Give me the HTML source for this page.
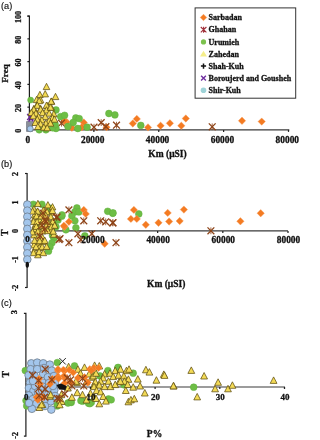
<!DOCTYPE html>
<html><head><meta charset="utf-8"><style>
html,body{margin:0;padding:0;background:#fff;}
body{width:302px;height:440px;overflow:hidden;}
svg{display:block;filter:blur(0.3px);}
</style></head><body>
<svg width="302" height="440" viewBox="0 0 302 440">
<rect width="302" height="440" fill="#fff"/>
<text x="1" y="8.6" font-family="Liberation Sans" font-size="9.2" text-anchor="start" fill="#111" stroke="#111" stroke-width="0.15">(a)</text>
<path d="M27.4 16.1H29.4V129.9H27.4" stroke="#1e1e1e" stroke-width="1.2" fill="none"/>
<path d="M27.4 16.1H29.4" stroke="#1e1e1e" stroke-width="1.2"/>
<path d="M27.4 38.86H29.4" stroke="#1e1e1e" stroke-width="1.2"/>
<path d="M27.4 61.620000000000005H29.4" stroke="#1e1e1e" stroke-width="1.2"/>
<path d="M27.4 84.38H29.4" stroke="#1e1e1e" stroke-width="1.2"/>
<path d="M27.4 107.14000000000001H29.4" stroke="#1e1e1e" stroke-width="1.2"/>
<path d="M27.4 129.9H29.4" stroke="#1e1e1e" stroke-width="1.2"/>
<path d="M29.4 129.9H289.3" stroke="#3a3a3a" stroke-width="1.1" fill="none"/>
<path d="M29.0 129.9V131.9" stroke="#1e1e1e" stroke-width="1.2"/>
<path d="M93.875 129.9V131.9" stroke="#1e1e1e" stroke-width="1.2"/>
<path d="M158.75 129.9V131.9" stroke="#1e1e1e" stroke-width="1.2"/>
<path d="M223.625 129.9V131.9" stroke="#1e1e1e" stroke-width="1.2"/>
<path d="M288.5 129.9V131.9" stroke="#1e1e1e" stroke-width="1.2"/>
<text x="21.3" y="16.900000000000002" font-family="Liberation Serif" font-weight="bold" font-size="8" text-anchor="middle" transform="rotate(-90 21.3 16.900000000000002)" fill="#111" stroke="#111" stroke-width="0.3">100</text>
<text x="21.3" y="39.66" font-family="Liberation Serif" font-weight="bold" font-size="8" text-anchor="middle" transform="rotate(-90 21.3 39.66)" fill="#111" stroke="#111" stroke-width="0.3">80</text>
<text x="21.3" y="62.42" font-family="Liberation Serif" font-weight="bold" font-size="8" text-anchor="middle" transform="rotate(-90 21.3 62.42)" fill="#111" stroke="#111" stroke-width="0.3">60</text>
<text x="21.3" y="85.17999999999999" font-family="Liberation Serif" font-weight="bold" font-size="8" text-anchor="middle" transform="rotate(-90 21.3 85.17999999999999)" fill="#111" stroke="#111" stroke-width="0.3">40</text>
<text x="21.3" y="107.94000000000001" font-family="Liberation Serif" font-weight="bold" font-size="8" text-anchor="middle" transform="rotate(-90 21.3 107.94000000000001)" fill="#111" stroke="#111" stroke-width="0.3">20</text>
<text x="21.3" y="130.70000000000002" font-family="Liberation Serif" font-weight="bold" font-size="8" text-anchor="middle" transform="rotate(-90 21.3 130.70000000000002)" fill="#111" stroke="#111" stroke-width="0.3">0</text>
<text x="27.8" y="142.6" font-family="Liberation Serif" font-weight="bold" font-size="9.4" text-anchor="middle" fill="#111" stroke="#111" stroke-width="0.3">0</text>
<text x="92.675" y="142.6" font-family="Liberation Serif" font-weight="bold" font-size="9.4" text-anchor="middle" fill="#111" stroke="#111" stroke-width="0.3">20000</text>
<text x="157.55" y="142.6" font-family="Liberation Serif" font-weight="bold" font-size="9.4" text-anchor="middle" fill="#111" stroke="#111" stroke-width="0.3">40000</text>
<text x="222.425" y="142.6" font-family="Liberation Serif" font-weight="bold" font-size="9.4" text-anchor="middle" fill="#111" stroke="#111" stroke-width="0.3">60000</text>
<text x="287.3" y="142.6" font-family="Liberation Serif" font-weight="bold" font-size="9.4" text-anchor="middle" fill="#111" stroke="#111" stroke-width="0.3">80000</text>
<text x="8.3" y="73.4" font-family="Liberation Serif" font-weight="bold" font-size="9.2" text-anchor="middle" transform="rotate(-90 8.3 73.4)" fill="#111" stroke="#111" stroke-width="0.3">Freq</text>
<text x="167.5" y="156.8" font-family="Liberation Serif" font-weight="bold" font-size="9.5" text-anchor="middle" fill="#111" stroke="#111" stroke-width="0.3">Km (μSI)</text>
<path d="M106.5 123.5L110.2 127.2L106.5 130.9L102.8 127.2Z" fill="#F47B22" stroke="#F7A060" stroke-width="0.4"/>
<path d="M66.6 118.2L70.3 121.9L66.6 125.6L62.9 121.9Z" fill="#F47B22" stroke="#F7A060" stroke-width="0.4"/>
<path d="M71.9 124.1L75.6 127.8L71.9 131.5L68.2 127.8Z" fill="#F47B22" stroke="#F7A060" stroke-width="0.4"/>
<path d="M83.8 118.8L87.5 122.5L83.8 126.2L80.1 122.5Z" fill="#F47B22" stroke="#F7A060" stroke-width="0.4"/>
<path d="M81.8 123.5L85.5 127.2L81.8 130.9L78.1 127.2Z" fill="#F47B22" stroke="#F7A060" stroke-width="0.4"/>
<path d="M64.4 117.5L68.1 121.2L64.4 124.9L60.7 121.2Z" fill="#F47B22" stroke="#F7A060" stroke-width="0.4"/>
<path d="M136.8 115.2L140.5 118.9L136.8 122.6L133.1 118.9Z" fill="#F47B22" stroke="#F7A060" stroke-width="0.4"/>
<path d="M132.8 119.8L136.5 123.5L132.8 127.2L129.1 123.5Z" fill="#F47B22" stroke="#F7A060" stroke-width="0.4"/>
<path d="M148.0 123.7L151.7 127.4L148.0 131.1L144.3 127.4Z" fill="#F47B22" stroke="#F7A060" stroke-width="0.4"/>
<path d="M160.6 122.0L164.3 125.7L160.6 129.4L156.9 125.7Z" fill="#F47B22" stroke="#F7A060" stroke-width="0.4"/>
<path d="M169.9 119.6L173.6 123.3L169.9 127.0L166.2 123.3Z" fill="#F47B22" stroke="#F7A060" stroke-width="0.4"/>
<path d="M181.3 122.0L185.0 125.7L181.3 129.4L177.6 125.7Z" fill="#F47B22" stroke="#F7A060" stroke-width="0.4"/>
<path d="M185.8 114.8L189.5 118.5L185.8 122.2L182.1 118.5Z" fill="#F47B22" stroke="#F7A060" stroke-width="0.4"/>
<path d="M242.0 117.1L245.7 120.8L242.0 124.5L238.3 120.8Z" fill="#F47B22" stroke="#F7A060" stroke-width="0.4"/>
<path d="M261.7 117.9L265.4 121.6L261.7 125.3L258.0 121.6Z" fill="#F47B22" stroke="#F7A060" stroke-width="0.4"/>
<path d="M58.1 119.8L64.9 126.6M64.9 119.8L58.1 126.6" stroke="#8E4418" stroke-width="1.3" fill="none"/><path d="M61.5 119.8V126.6" stroke="#8E4418" stroke-width="0.8"/>
<path d="M90.6 123.8L97.4 130.6M97.4 123.8L90.6 130.6" stroke="#8E4418" stroke-width="1.3" fill="none"/><path d="M94.0 123.8V130.6" stroke="#8E4418" stroke-width="0.8"/>
<path d="M97.8 119.2L104.6 126.0M104.6 119.2L97.8 126.0" stroke="#8E4418" stroke-width="1.3" fill="none"/><path d="M101.2 119.2V126.0" stroke="#8E4418" stroke-width="0.8"/>
<path d="M102.5 123.2L109.3 130.0M109.3 123.2L102.5 130.0" stroke="#8E4418" stroke-width="1.3" fill="none"/><path d="M105.9 123.2V130.0" stroke="#8E4418" stroke-width="0.8"/>
<path d="M113.1 121.8L119.9 128.6M119.9 121.8L113.1 128.6" stroke="#8E4418" stroke-width="1.3" fill="none"/><path d="M116.5 121.8V128.6" stroke="#8E4418" stroke-width="0.8"/>
<path d="M208.8 123.4L215.6 130.2M215.6 123.4L208.8 130.2" stroke="#8E4418" stroke-width="1.3" fill="none"/><path d="M212.2 123.4V130.2" stroke="#8E4418" stroke-width="0.8"/>
<circle cx="56.0" cy="110.0" r="3.4" fill="#6DBE45" stroke="#62AE3E" stroke-width="0.5"/>
<circle cx="60.6" cy="116.6" r="3.4" fill="#6DBE45" stroke="#62AE3E" stroke-width="0.5"/>
<circle cx="64.6" cy="115.3" r="3.4" fill="#6DBE45" stroke="#62AE3E" stroke-width="0.5"/>
<circle cx="75.8" cy="117.9" r="3.4" fill="#6DBE45" stroke="#62AE3E" stroke-width="0.5"/>
<circle cx="79.2" cy="118.6" r="3.4" fill="#6DBE45" stroke="#62AE3E" stroke-width="0.5"/>
<circle cx="73.2" cy="122.5" r="3.4" fill="#6DBE45" stroke="#62AE3E" stroke-width="0.5"/>
<circle cx="67.9" cy="126.5" r="3.4" fill="#6DBE45" stroke="#62AE3E" stroke-width="0.5"/>
<circle cx="77.8" cy="128.5" r="3.4" fill="#6DBE45" stroke="#62AE3E" stroke-width="0.5"/>
<circle cx="87.1" cy="127.2" r="3.4" fill="#6DBE45" stroke="#62AE3E" stroke-width="0.5"/>
<circle cx="56.0" cy="128.5" r="3.4" fill="#6DBE45" stroke="#62AE3E" stroke-width="0.5"/>
<circle cx="30.6" cy="100.1" r="3.0" fill="#6DBE45" stroke="#62AE3E" stroke-width="0.5"/>
<circle cx="39.2" cy="129.8" r="3.4" fill="#6DBE45" stroke="#62AE3E" stroke-width="0.5"/>
<circle cx="45.9" cy="129.8" r="3.4" fill="#6DBE45" stroke="#62AE3E" stroke-width="0.5"/>
<circle cx="52.5" cy="127.8" r="3.4" fill="#6DBE45" stroke="#62AE3E" stroke-width="0.5"/>
<circle cx="55.1" cy="124.5" r="3.4" fill="#6DBE45" stroke="#62AE3E" stroke-width="0.5"/>
<circle cx="108.9" cy="113.5" r="3.4" fill="#6DBE45" stroke="#62AE3E" stroke-width="0.5"/>
<circle cx="114.9" cy="114.9" r="3.4" fill="#6DBE45" stroke="#62AE3E" stroke-width="0.5"/>
<circle cx="140.8" cy="125.4" r="3.4" fill="#6DBE45" stroke="#62AE3E" stroke-width="0.5"/>
<rect x="26" y="121" width="7" height="11" rx="1" fill="#8a8f99"/>
<path d="M27.2 114.0L33.2 120.0M33.2 114.0L27.2 120.0" stroke="#6A2A9A" stroke-width="1.6"/>
<path d="M28.5 116.5L33.5 121.5M33.5 116.5L28.5 121.5" stroke="#6A2A9A" stroke-width="1.6"/>
<path d="M46.5 83.3L49.8 89.6L43.2 89.6Z" fill="#F3DA55" stroke="#5E4E10" stroke-width="0.75"/>
<path d="M39.9 91.3L43.2 97.6L36.6 97.6Z" fill="#F3DA55" stroke="#5E4E10" stroke-width="0.75"/>
<path d="M45.2 90.6L48.5 96.9L41.9 96.9Z" fill="#F3DA55" stroke="#5E4E10" stroke-width="0.75"/>
<path d="M55.5 93.3L58.8 99.6L52.2 99.6Z" fill="#F3DA55" stroke="#5E4E10" stroke-width="0.75"/>
<path d="M36.6 96.3L39.9 102.6L33.3 102.6Z" fill="#F3DA55" stroke="#5E4E10" stroke-width="0.75"/>
<path d="M40.6 96.6L43.9 102.9L37.3 102.9Z" fill="#F3DA55" stroke="#5E4E10" stroke-width="0.75"/>
<path d="M51.5 97.9L54.8 104.2L48.2 104.2Z" fill="#F3DA55" stroke="#5E4E10" stroke-width="0.75"/>
<path d="M37.2 101.6L40.5 107.9L33.9 107.9Z" fill="#F3DA55" stroke="#5E4E10" stroke-width="0.75"/>
<path d="M47.2 102.5L50.5 108.8L43.9 108.8Z" fill="#F3DA55" stroke="#5E4E10" stroke-width="0.75"/>
<path d="M51.2 103.9L54.5 110.2L47.9 110.2Z" fill="#F3DA55" stroke="#5E4E10" stroke-width="0.75"/>
<path d="M33.9 105.2L37.2 111.5L30.6 111.5Z" fill="#F3DA55" stroke="#5E4E10" stroke-width="0.75"/>
<path d="M40.6 105.2L43.9 111.5L37.3 111.5Z" fill="#F3DA55" stroke="#5E4E10" stroke-width="0.75"/>
<path d="M39.2 97.4L42.5 103.7L35.9 103.7Z" fill="#F3DA55" stroke="#5E4E10" stroke-width="0.75"/>
<path d="M51.2 98.0L54.5 104.3L47.9 104.3Z" fill="#F3DA55" stroke="#5E4E10" stroke-width="0.75"/>
<path d="M46.5 102.0L49.8 108.3L43.2 108.3Z" fill="#F3DA55" stroke="#5E4E10" stroke-width="0.75"/>
<path d="M37.3 102.0L40.6 108.3L34.0 108.3Z" fill="#F3DA55" stroke="#5E4E10" stroke-width="0.75"/>
<path d="M33.9 106.0L37.2 112.3L30.6 112.3Z" fill="#F3DA55" stroke="#5E4E10" stroke-width="0.75"/>
<path d="M40.6 106.0L43.9 112.3L37.3 112.3Z" fill="#F3DA55" stroke="#5E4E10" stroke-width="0.75"/>
<path d="M46.5 106.7L49.8 113.0L43.2 113.0Z" fill="#F3DA55" stroke="#5E4E10" stroke-width="0.75"/>
<path d="M50.5 104.0L53.8 110.3L47.2 110.3Z" fill="#F3DA55" stroke="#5E4E10" stroke-width="0.75"/>
<path d="M31.3 109.3L34.6 115.6L28.0 115.6Z" fill="#F3DA55" stroke="#5E4E10" stroke-width="0.75"/>
<path d="M35.9 109.9L39.2 116.2L32.6 116.2Z" fill="#F3DA55" stroke="#5E4E10" stroke-width="0.75"/>
<path d="M42.6 109.3L45.9 115.6L39.3 115.6Z" fill="#F3DA55" stroke="#5E4E10" stroke-width="0.75"/>
<path d="M49.2 109.9L52.5 116.2L45.9 116.2Z" fill="#F3DA55" stroke="#5E4E10" stroke-width="0.75"/>
<path d="M53.8 110.6L57.1 116.9L50.5 116.9Z" fill="#F3DA55" stroke="#5E4E10" stroke-width="0.75"/>
<path d="M33.3 112.6L36.6 118.9L30.0 118.9Z" fill="#F3DA55" stroke="#5E4E10" stroke-width="0.75"/>
<path d="M38.6 113.3L41.9 119.6L35.3 119.6Z" fill="#F3DA55" stroke="#5E4E10" stroke-width="0.75"/>
<path d="M45.2 113.3L48.5 119.6L41.9 119.6Z" fill="#F3DA55" stroke="#5E4E10" stroke-width="0.75"/>
<path d="M52.5 114.6L55.8 120.9L49.2 120.9Z" fill="#F3DA55" stroke="#5E4E10" stroke-width="0.75"/>
<path d="M37.3 115.9L40.6 122.2L34.0 122.2Z" fill="#F3DA55" stroke="#5E4E10" stroke-width="0.75"/>
<path d="M41.9 116.6L45.2 122.9L38.6 122.9Z" fill="#F3DA55" stroke="#5E4E10" stroke-width="0.75"/>
<path d="M49.2 117.2L52.5 123.5L45.9 123.5Z" fill="#F3DA55" stroke="#5E4E10" stroke-width="0.75"/>
<path d="M54.5 115.9L57.8 122.2L51.2 122.2Z" fill="#F3DA55" stroke="#5E4E10" stroke-width="0.75"/>
<path d="M35.3 119.2L38.6 125.5L32.0 125.5Z" fill="#F3DA55" stroke="#5E4E10" stroke-width="0.75"/>
<path d="M40.6 120.5L43.9 126.8L37.3 126.8Z" fill="#F3DA55" stroke="#5E4E10" stroke-width="0.75"/>
<path d="M45.9 119.9L49.2 126.2L42.6 126.2Z" fill="#F3DA55" stroke="#5E4E10" stroke-width="0.75"/>
<path d="M50.5 119.9L53.8 126.2L47.2 126.2Z" fill="#F3DA55" stroke="#5E4E10" stroke-width="0.75"/>
<path d="M37.9 123.2L41.2 129.5L34.6 129.5Z" fill="#F3DA55" stroke="#5E4E10" stroke-width="0.75"/>
<path d="M43.9 123.9L47.2 130.2L40.6 130.2Z" fill="#F3DA55" stroke="#5E4E10" stroke-width="0.75"/>
<path d="M47.2 124.5L50.5 130.8L43.9 130.8Z" fill="#F3DA55" stroke="#5E4E10" stroke-width="0.75"/>
<circle cx="30.2" cy="128.8" r="3.0" fill="#A3C6EC" stroke="#6F7C8C" stroke-width="0.8"/>
<text x="1" y="167.3" font-family="Liberation Sans" font-size="9.2" text-anchor="start" fill="#111" stroke="#111" stroke-width="0.15">(b)</text>
<path d="M25.1 173.5H27.1V287.5H25.1" stroke="#1e1e1e" stroke-width="1.2" fill="none"/>
<path d="M25.1 173.5H27.1" stroke="#1e1e1e" stroke-width="1.2"/>
<path d="M25.1 202.0H27.1" stroke="#1e1e1e" stroke-width="1.2"/>
<path d="M25.1 230.5H27.1" stroke="#1e1e1e" stroke-width="1.2"/>
<path d="M25.1 259.0H27.1" stroke="#1e1e1e" stroke-width="1.2"/>
<path d="M25.1 287.5H27.1" stroke="#1e1e1e" stroke-width="1.2"/>
<path d="M27.1 230.9H288" stroke="#3a3a3a" stroke-width="1.1" fill="none"/>
<path d="M27.3 230.9V232.9" stroke="#1e1e1e" stroke-width="1.2"/>
<path d="M92.475 230.9V232.9" stroke="#1e1e1e" stroke-width="1.2"/>
<path d="M157.65 230.9V232.9" stroke="#1e1e1e" stroke-width="1.2"/>
<path d="M222.825 230.9V232.9" stroke="#1e1e1e" stroke-width="1.2"/>
<path d="M288.0 230.9V232.9" stroke="#1e1e1e" stroke-width="1.2"/>
<text x="18.3" y="174.0" font-family="Liberation Serif" font-weight="bold" font-size="8" text-anchor="middle" transform="rotate(-90 18.3 174.0)" fill="#111" stroke="#111" stroke-width="0.3">2</text>
<text x="18.3" y="202.5" font-family="Liberation Serif" font-weight="bold" font-size="8" text-anchor="middle" transform="rotate(-90 18.3 202.5)" fill="#111" stroke="#111" stroke-width="0.3">1</text>
<text x="18.3" y="231.0" font-family="Liberation Serif" font-weight="bold" font-size="8" text-anchor="middle" transform="rotate(-90 18.3 231.0)" fill="#111" stroke="#111" stroke-width="0.3">0</text>
<text x="18.3" y="259.5" font-family="Liberation Serif" font-weight="bold" font-size="8" text-anchor="middle" transform="rotate(-90 18.3 259.5)" fill="#111" stroke="#111" stroke-width="0.3">-1</text>
<text x="18.3" y="288.0" font-family="Liberation Serif" font-weight="bold" font-size="8" text-anchor="middle" transform="rotate(-90 18.3 288.0)" fill="#111" stroke="#111" stroke-width="0.3">-2</text>
<text x="8.5" y="232.7" font-family="Liberation Serif" font-weight="bold" font-size="9.6" text-anchor="middle" transform="rotate(-90 8.5 232.7)" fill="#111" stroke="#111" stroke-width="0.3">T</text>
<text x="166.2" y="287.2" font-family="Liberation Serif" font-weight="bold" font-size="9.5" text-anchor="middle" fill="#111" stroke="#111" stroke-width="0.3">Km (μSI)</text>
<circle cx="41.9" cy="204.3" r="3.4" fill="#6DBE45" stroke="#62AE3E" stroke-width="0.5"/>
<circle cx="33.3" cy="204.3" r="3.4" fill="#6DBE45" stroke="#62AE3E" stroke-width="0.5"/>
<circle cx="61.8" cy="216.2" r="3.4" fill="#6DBE45" stroke="#62AE3E" stroke-width="0.5"/>
<circle cx="54.5" cy="226.8" r="3.4" fill="#6DBE45" stroke="#62AE3E" stroke-width="0.5"/>
<circle cx="49.8" cy="208.2" r="3.4" fill="#6DBE45" stroke="#62AE3E" stroke-width="0.5"/>
<circle cx="54.0" cy="238.2" r="3.4" fill="#6DBE45" stroke="#62AE3E" stroke-width="0.5"/>
<circle cx="52.0" cy="242.8" r="3.4" fill="#6DBE45" stroke="#62AE3E" stroke-width="0.5"/>
<circle cx="50.0" cy="247.0" r="3.4" fill="#6DBE45" stroke="#62AE3E" stroke-width="0.5"/>
<circle cx="48.5" cy="251.2" r="3.4" fill="#6DBE45" stroke="#62AE3E" stroke-width="0.5"/>
<circle cx="52.5" cy="235.6" r="3.4" fill="#6DBE45" stroke="#62AE3E" stroke-width="0.5"/>
<circle cx="54.5" cy="226.3" r="3.4" fill="#6DBE45" stroke="#62AE3E" stroke-width="0.5"/>
<circle cx="76.9" cy="207.9" r="3.4" fill="#6DBE45" stroke="#62AE3E" stroke-width="0.5"/>
<circle cx="74.9" cy="211.9" r="3.4" fill="#6DBE45" stroke="#62AE3E" stroke-width="0.5"/>
<circle cx="78.9" cy="211.9" r="3.4" fill="#6DBE45" stroke="#62AE3E" stroke-width="0.5"/>
<circle cx="62.0" cy="214.9" r="3.4" fill="#6DBE45" stroke="#62AE3E" stroke-width="0.5"/>
<circle cx="71.9" cy="215.9" r="3.4" fill="#6DBE45" stroke="#62AE3E" stroke-width="0.5"/>
<circle cx="74.9" cy="220.8" r="3.4" fill="#6DBE45" stroke="#62AE3E" stroke-width="0.5"/>
<circle cx="56.0" cy="226.8" r="3.4" fill="#6DBE45" stroke="#62AE3E" stroke-width="0.5"/>
<circle cx="65.9" cy="229.8" r="3.4" fill="#6DBE45" stroke="#62AE3E" stroke-width="0.5"/>
<circle cx="75.9" cy="227.8" r="3.4" fill="#6DBE45" stroke="#62AE3E" stroke-width="0.5"/>
<circle cx="84.8" cy="235.8" r="3.4" fill="#6DBE45" stroke="#62AE3E" stroke-width="0.5"/>
<circle cx="107.7" cy="211.3" r="3.4" fill="#6DBE45" stroke="#62AE3E" stroke-width="0.5"/>
<circle cx="112.7" cy="213.3" r="3.4" fill="#6DBE45" stroke="#62AE3E" stroke-width="0.5"/>
<circle cx="113.0" cy="212.9" r="3.4" fill="#6DBE45" stroke="#62AE3E" stroke-width="0.5"/>
<circle cx="138.8" cy="213.9" r="3.4" fill="#6DBE45" stroke="#62AE3E" stroke-width="0.5"/>
<circle cx="58.0" cy="220.0" r="3.4" fill="#6DBE45" stroke="#62AE3E" stroke-width="0.5"/>
<path d="M64.4 223.1L68.1 226.8L64.4 230.5L60.7 226.8Z" fill="#F47B22" stroke="#F7A060" stroke-width="0.4"/>
<path d="M83.8 206.2L87.5 209.9L83.8 213.6L80.1 209.9Z" fill="#F47B22" stroke="#F7A060" stroke-width="0.4"/>
<path d="M85.8 210.2L89.5 213.9L85.8 217.6L82.1 213.9Z" fill="#F47B22" stroke="#F7A060" stroke-width="0.4"/>
<path d="M68.9 218.1L72.6 221.8L68.9 225.5L65.2 221.8Z" fill="#F47B22" stroke="#F7A060" stroke-width="0.4"/>
<path d="M63.9 222.1L67.6 225.8L63.9 229.5L60.2 225.8Z" fill="#F47B22" stroke="#F7A060" stroke-width="0.4"/>
<path d="M104.7 240.0L108.4 243.7L104.7 247.4L101.0 243.7Z" fill="#F47B22" stroke="#F7A060" stroke-width="0.4"/>
<path d="M133.9 206.2L137.6 209.9L133.9 213.6L130.2 209.9Z" fill="#F47B22" stroke="#F7A060" stroke-width="0.4"/>
<path d="M130.9 215.2L134.6 218.9L130.9 222.6L127.2 218.9Z" fill="#F47B22" stroke="#F7A060" stroke-width="0.4"/>
<path d="M136.8 215.2L140.5 218.9L136.8 222.6L133.1 218.9Z" fill="#F47B22" stroke="#F7A060" stroke-width="0.4"/>
<path d="M145.8 221.1L149.5 224.8L145.8 228.5L142.1 224.8Z" fill="#F47B22" stroke="#F7A060" stroke-width="0.4"/>
<path d="M158.5 219.1L162.2 222.8L158.5 226.5L154.8 222.8Z" fill="#F47B22" stroke="#F7A060" stroke-width="0.4"/>
<path d="M167.7 209.2L171.4 212.9L167.7 216.6L164.0 212.9Z" fill="#F47B22" stroke="#F7A060" stroke-width="0.4"/>
<path d="M169.1 217.8L172.8 221.5L169.1 225.2L165.4 221.5Z" fill="#F47B22" stroke="#F7A060" stroke-width="0.4"/>
<path d="M179.7 217.3L183.4 221.0L179.7 224.7L176.0 221.0Z" fill="#F47B22" stroke="#F7A060" stroke-width="0.4"/>
<path d="M183.9 205.9L187.6 209.6L183.9 213.3L180.2 209.6Z" fill="#F47B22" stroke="#F7A060" stroke-width="0.4"/>
<path d="M240.4 217.6L244.1 221.3L240.4 225.0L236.7 221.3Z" fill="#F47B22" stroke="#F7A060" stroke-width="0.4"/>
<path d="M260.7 209.5L264.4 213.2L260.7 216.9L257.0 213.2Z" fill="#F47B22" stroke="#F7A060" stroke-width="0.4"/>
<path d="M37.9 200.3L41.2 206.6L34.6 206.6Z" fill="#F3DA55" stroke="#5E4E10" stroke-width="0.75"/>
<path d="M47.9 201.6L51.2 207.9L44.6 207.9Z" fill="#F3DA55" stroke="#5E4E10" stroke-width="0.75"/>
<path d="M52.5 203.6L55.8 209.9L49.2 209.9Z" fill="#F3DA55" stroke="#5E4E10" stroke-width="0.75"/>
<path d="M33.9 205.6L37.2 211.9L30.6 211.9Z" fill="#F3DA55" stroke="#5E4E10" stroke-width="0.75"/>
<path d="M37.3 208.3L40.6 214.6L34.0 214.6Z" fill="#F3DA55" stroke="#5E4E10" stroke-width="0.75"/>
<path d="M44.5 206.9L47.8 213.2L41.2 213.2Z" fill="#F3DA55" stroke="#5E4E10" stroke-width="0.75"/>
<path d="M51.2 208.9L54.5 215.2L47.9 215.2Z" fill="#F3DA55" stroke="#5E4E10" stroke-width="0.75"/>
<path d="M34.6 211.6L37.9 217.9L31.3 217.9Z" fill="#F3DA55" stroke="#5E4E10" stroke-width="0.75"/>
<path d="M42.6 211.6L45.9 217.9L39.3 217.9Z" fill="#F3DA55" stroke="#5E4E10" stroke-width="0.75"/>
<path d="M37.9 212.9L41.2 219.2L34.6 219.2Z" fill="#F3DA55" stroke="#5E4E10" stroke-width="0.75"/>
<path d="M33.9 216.2L37.2 222.5L30.6 222.5Z" fill="#F3DA55" stroke="#5E4E10" stroke-width="0.75"/>
<path d="M39.2 216.2L42.5 222.5L35.9 222.5Z" fill="#F3DA55" stroke="#5E4E10" stroke-width="0.75"/>
<path d="M45.9 215.5L49.2 221.8L42.6 221.8Z" fill="#F3DA55" stroke="#5E4E10" stroke-width="0.75"/>
<path d="M52.5 216.9L55.8 223.2L49.2 223.2Z" fill="#F3DA55" stroke="#5E4E10" stroke-width="0.75"/>
<path d="M35.3 221.5L38.6 227.8L32.0 227.8Z" fill="#F3DA55" stroke="#5E4E10" stroke-width="0.75"/>
<path d="M40.6 221.5L43.9 227.8L37.3 227.8Z" fill="#F3DA55" stroke="#5E4E10" stroke-width="0.75"/>
<path d="M49.2 220.2L52.5 226.5L45.9 226.5Z" fill="#F3DA55" stroke="#5E4E10" stroke-width="0.75"/>
<path d="M37.9 224.8L41.2 231.1L34.6 231.1Z" fill="#F3DA55" stroke="#5E4E10" stroke-width="0.75"/>
<path d="M45.9 224.8L49.2 231.1L42.6 231.1Z" fill="#F3DA55" stroke="#5E4E10" stroke-width="0.75"/>
<path d="M34.0 225.7L37.3 232.0L30.7 232.0Z" fill="#F3DA55" stroke="#5E4E10" stroke-width="0.75"/>
<path d="M39.2 227.0L42.5 233.3L35.9 233.3Z" fill="#F3DA55" stroke="#5E4E10" stroke-width="0.75"/>
<path d="M46.5 226.3L49.8 232.6L43.2 232.6Z" fill="#F3DA55" stroke="#5E4E10" stroke-width="0.75"/>
<path d="M51.2 227.0L54.5 233.3L47.9 233.3Z" fill="#F3DA55" stroke="#5E4E10" stroke-width="0.75"/>
<path d="M53.8 231.0L57.1 237.3L50.5 237.3Z" fill="#F3DA55" stroke="#5E4E10" stroke-width="0.75"/>
<path d="M37.9 234.3L41.2 240.6L34.6 240.6Z" fill="#F3DA55" stroke="#5E4E10" stroke-width="0.75"/>
<path d="M42.6 234.3L45.9 240.6L39.3 240.6Z" fill="#F3DA55" stroke="#5E4E10" stroke-width="0.75"/>
<path d="M34.0 231.6L37.3 237.9L30.7 237.9Z" fill="#F3DA55" stroke="#5E4E10" stroke-width="0.75"/>
<path d="M39.2 240.2L42.5 246.5L35.9 246.5Z" fill="#F3DA55" stroke="#5E4E10" stroke-width="0.75"/>
<path d="M34.0 241.6L37.3 247.9L30.7 247.9Z" fill="#F3DA55" stroke="#5E4E10" stroke-width="0.75"/>
<path d="M43.2 238.3L46.5 244.6L39.9 244.6Z" fill="#F3DA55" stroke="#5E4E10" stroke-width="0.75"/>
<path d="M39.2 244.2L42.5 250.5L35.9 250.5Z" fill="#F3DA55" stroke="#5E4E10" stroke-width="0.75"/>
<path d="M34.0 247.5L37.3 253.8L30.7 253.8Z" fill="#F3DA55" stroke="#5E4E10" stroke-width="0.75"/>
<path d="M37.9 251.5L41.2 257.8L34.6 257.8Z" fill="#F3DA55" stroke="#5E4E10" stroke-width="0.75"/>
<path d="M32.5 207.8L35.8 214.1L29.2 214.1Z" fill="#F3DA55" stroke="#5E4E10" stroke-width="0.75"/>
<path d="M37.7 207.9L41.0 214.2L34.4 214.2Z" fill="#F3DA55" stroke="#5E4E10" stroke-width="0.75"/>
<path d="M43.3 206.9L46.6 213.1L40.0 213.1Z" fill="#F3DA55" stroke="#5E4E10" stroke-width="0.75"/>
<path d="M47.0 208.4L50.3 214.7L43.7 214.7Z" fill="#F3DA55" stroke="#5E4E10" stroke-width="0.75"/>
<path d="M52.5 207.2L55.8 213.5L49.2 213.5Z" fill="#F3DA55" stroke="#5E4E10" stroke-width="0.75"/>
<path d="M36.5 212.7L39.8 219.0L33.2 219.0Z" fill="#F3DA55" stroke="#5E4E10" stroke-width="0.75"/>
<path d="M41.2 212.7L44.5 219.0L37.9 219.0Z" fill="#F3DA55" stroke="#5E4E10" stroke-width="0.75"/>
<path d="M45.8 212.0L49.1 218.3L42.5 218.3Z" fill="#F3DA55" stroke="#5E4E10" stroke-width="0.75"/>
<path d="M50.8 213.5L54.1 219.7L47.5 219.7Z" fill="#F3DA55" stroke="#5E4E10" stroke-width="0.75"/>
<path d="M33.5 218.1L36.8 224.4L30.2 224.4Z" fill="#F3DA55" stroke="#5E4E10" stroke-width="0.75"/>
<path d="M37.1 218.3L40.4 224.5L33.8 224.5Z" fill="#F3DA55" stroke="#5E4E10" stroke-width="0.75"/>
<path d="M43.2 217.3L46.5 223.6L39.9 223.6Z" fill="#F3DA55" stroke="#5E4E10" stroke-width="0.75"/>
<path d="M47.1 218.5L50.4 224.7L43.8 224.7Z" fill="#F3DA55" stroke="#5E4E10" stroke-width="0.75"/>
<path d="M52.9 218.2L56.2 224.4L49.6 224.4Z" fill="#F3DA55" stroke="#5E4E10" stroke-width="0.75"/>
<path d="M36.3 223.2L39.6 229.4L33.0 229.4Z" fill="#F3DA55" stroke="#5E4E10" stroke-width="0.75"/>
<path d="M41.3 222.5L44.6 228.8L38.0 228.8Z" fill="#F3DA55" stroke="#5E4E10" stroke-width="0.75"/>
<path d="M46.1 222.6L49.4 228.9L42.8 228.9Z" fill="#F3DA55" stroke="#5E4E10" stroke-width="0.75"/>
<path d="M51.4 223.5L54.7 229.8L48.1 229.8Z" fill="#F3DA55" stroke="#5E4E10" stroke-width="0.75"/>
<path d="M54.7 222.0L58.0 228.3L51.4 228.3Z" fill="#F3DA55" stroke="#5E4E10" stroke-width="0.75"/>
<path d="M32.4 228.7L35.7 234.9L29.1 234.9Z" fill="#F3DA55" stroke="#5E4E10" stroke-width="0.75"/>
<path d="M37.9 228.0L41.2 234.3L34.6 234.3Z" fill="#F3DA55" stroke="#5E4E10" stroke-width="0.75"/>
<path d="M42.6 227.8L45.9 234.0L39.3 234.0Z" fill="#F3DA55" stroke="#5E4E10" stroke-width="0.75"/>
<path d="M47.8 227.4L51.1 233.7L44.5 233.7Z" fill="#F3DA55" stroke="#5E4E10" stroke-width="0.75"/>
<path d="M53.2 227.9L56.5 234.2L49.9 234.2Z" fill="#F3DA55" stroke="#5E4E10" stroke-width="0.75"/>
<path d="M34.6 237.1L37.9 243.4L31.3 243.4Z" fill="#F3DA55" stroke="#5E4E10" stroke-width="0.75"/>
<path d="M39.7 237.5L43.0 243.7L36.4 243.7Z" fill="#F3DA55" stroke="#5E4E10" stroke-width="0.75"/>
<path d="M44.8 237.1L48.1 243.4L41.5 243.4Z" fill="#F3DA55" stroke="#5E4E10" stroke-width="0.75"/>
<path d="M36.0 243.5L39.3 249.7L32.7 249.7Z" fill="#F3DA55" stroke="#5E4E10" stroke-width="0.75"/>
<path d="M42.2 243.5L45.5 249.8L38.9 249.8Z" fill="#F3DA55" stroke="#5E4E10" stroke-width="0.75"/>
<path d="M46.6 243.2L49.9 249.4L43.3 249.4Z" fill="#F3DA55" stroke="#5E4E10" stroke-width="0.75"/>
<path d="M33.5 249.4L36.8 255.7L30.2 255.7Z" fill="#F3DA55" stroke="#5E4E10" stroke-width="0.75"/>
<path d="M39.1 248.3L42.4 254.6L35.8 254.6Z" fill="#F3DA55" stroke="#5E4E10" stroke-width="0.75"/>
<path d="M43.3 249.4L46.6 255.7L40.0 255.7Z" fill="#F3DA55" stroke="#5E4E10" stroke-width="0.75"/>
<path d="M42.5 218.1L49.3 224.9M49.3 218.1L42.5 224.9" stroke="#8E4418" stroke-width="1.3" fill="none"/><path d="M45.9 218.1V224.9" stroke="#8E4418" stroke-width="0.8"/>
<path d="M53.1 214.1L59.9 220.9M59.9 214.1L53.1 220.9" stroke="#8E4418" stroke-width="1.3" fill="none"/><path d="M56.5 214.1V220.9" stroke="#8E4418" stroke-width="0.8"/>
<path d="M38.5 222.1L45.3 228.9M45.3 222.1L38.5 228.9" stroke="#8E4418" stroke-width="1.3" fill="none"/><path d="M41.9 222.1V228.9" stroke="#8E4418" stroke-width="0.8"/>
<path d="M55.7 236.2L62.5 243.0M62.5 236.2L55.7 243.0" stroke="#8E4418" stroke-width="1.3" fill="none"/><path d="M59.1 236.2V243.0" stroke="#8E4418" stroke-width="0.8"/>
<path d="M65.5 206.5L72.3 213.3M72.3 206.5L65.5 213.3" stroke="#8E4418" stroke-width="1.3" fill="none"/><path d="M68.9 206.5V213.3" stroke="#8E4418" stroke-width="0.8"/>
<path d="M80.4 217.4L87.2 224.2M87.2 217.4L80.4 224.2" stroke="#8E4418" stroke-width="1.3" fill="none"/><path d="M83.8 217.4V224.2" stroke="#8E4418" stroke-width="0.8"/>
<path d="M53.6 213.5L60.4 220.3M60.4 213.5L53.6 220.3" stroke="#8E4418" stroke-width="1.3" fill="none"/><path d="M57.0 213.5V220.3" stroke="#8E4418" stroke-width="0.8"/>
<path d="M97.3 217.4L104.1 224.2M104.1 217.4L97.3 224.2" stroke="#8E4418" stroke-width="1.3" fill="none"/><path d="M100.7 217.4V224.2" stroke="#8E4418" stroke-width="0.8"/>
<path d="M102.3 218.4L109.1 225.2M109.1 218.4L102.3 225.2" stroke="#8E4418" stroke-width="1.3" fill="none"/><path d="M105.7 218.4V225.2" stroke="#8E4418" stroke-width="0.8"/>
<path d="M109.3 219.4L116.1 226.2M116.1 219.4L109.3 226.2" stroke="#8E4418" stroke-width="1.3" fill="none"/><path d="M112.7 219.4V226.2" stroke="#8E4418" stroke-width="0.8"/>
<path d="M56.6 235.3L63.4 242.1M63.4 235.3L56.6 242.1" stroke="#8E4418" stroke-width="1.3" fill="none"/><path d="M60.0 235.3V242.1" stroke="#8E4418" stroke-width="0.8"/>
<path d="M65.5 239.3L72.3 246.1M72.3 239.3L65.5 246.1" stroke="#8E4418" stroke-width="1.3" fill="none"/><path d="M68.9 239.3V246.1" stroke="#8E4418" stroke-width="0.8"/>
<path d="M74.5 230.4L81.3 237.2M81.3 230.4L74.5 237.2" stroke="#8E4418" stroke-width="1.3" fill="none"/><path d="M77.9 230.4V237.2" stroke="#8E4418" stroke-width="0.8"/>
<path d="M88.4 230.4L95.2 237.2M95.2 230.4L88.4 237.2" stroke="#8E4418" stroke-width="1.3" fill="none"/><path d="M91.8 230.4V237.2" stroke="#8E4418" stroke-width="0.8"/>
<path d="M77.4 236.3L84.2 243.1M84.2 236.3L77.4 243.1" stroke="#8E4418" stroke-width="1.3" fill="none"/><path d="M80.8 236.3V243.1" stroke="#8E4418" stroke-width="0.8"/>
<path d="M109.6 219.4L116.4 226.2M116.4 219.4L109.6 226.2" stroke="#8E4418" stroke-width="1.3" fill="none"/><path d="M113.0 219.4V226.2" stroke="#8E4418" stroke-width="0.8"/>
<path d="M112.6 239.3L119.4 246.1M119.4 239.3L112.6 246.1" stroke="#8E4418" stroke-width="1.3" fill="none"/><path d="M116.0 239.3V246.1" stroke="#8E4418" stroke-width="0.8"/>
<path d="M207.5 227.4L214.3 234.2M214.3 227.4L207.5 234.2" stroke="#8E4418" stroke-width="1.3" fill="none"/><path d="M210.9 227.4V234.2" stroke="#8E4418" stroke-width="0.8"/>
<path d="M41.4 216.4L48.2 223.2M48.2 216.4L41.4 223.2" stroke="#8E4418" stroke-width="1.3" fill="none"/><path d="M44.8 216.4V223.2" stroke="#8E4418" stroke-width="0.8"/>
<path d="M41.4 225.6L48.2 232.4M48.2 225.6L41.4 232.4" stroke="#8E4418" stroke-width="1.3" fill="none"/><path d="M44.8 225.6V232.4" stroke="#8E4418" stroke-width="0.8"/>
<path d="M39.6 209.6L46.4 216.4M46.4 209.6L39.6 216.4" stroke="#8E4418" stroke-width="1.3" fill="none"/><path d="M43.0 209.6V216.4" stroke="#8E4418" stroke-width="0.8"/>
<path d="M36.6 232.6L43.4 239.4M43.4 232.6L36.6 239.4" stroke="#8E4418" stroke-width="1.3" fill="none"/><path d="M40.0 232.6V239.4" stroke="#8E4418" stroke-width="0.8"/>
<text x="27.8" y="242.6" font-family="Liberation Serif" font-weight="bold" font-size="9.4" text-anchor="middle" fill="#111" stroke="#111" stroke-width="0.3">0</text>
<text x="92.975" y="242.6" font-family="Liberation Serif" font-weight="bold" font-size="9.4" text-anchor="middle" fill="#111" stroke="#111" stroke-width="0.3">20000</text>
<text x="158.15" y="242.6" font-family="Liberation Serif" font-weight="bold" font-size="9.4" text-anchor="middle" fill="#111" stroke="#111" stroke-width="0.3">40000</text>
<text x="223.325" y="242.6" font-family="Liberation Serif" font-weight="bold" font-size="9.4" text-anchor="middle" fill="#111" stroke="#111" stroke-width="0.3">60000</text>
<text x="288.5" y="242.6" font-family="Liberation Serif" font-weight="bold" font-size="9.4" text-anchor="middle" fill="#111" stroke="#111" stroke-width="0.3">80000</text>
<circle cx="27.3" cy="204.5" r="3.8" fill="#A3C6EC" stroke="#6F7C8C" stroke-width="0.8"/>
<circle cx="27.3" cy="210.6" r="3.8" fill="#A3C6EC" stroke="#6F7C8C" stroke-width="0.8"/>
<circle cx="27.3" cy="216.7" r="3.8" fill="#A3C6EC" stroke="#6F7C8C" stroke-width="0.8"/>
<circle cx="27.3" cy="222.8" r="3.8" fill="#A3C6EC" stroke="#6F7C8C" stroke-width="0.8"/>
<circle cx="27.3" cy="228.9" r="3.8" fill="#A3C6EC" stroke="#6F7C8C" stroke-width="0.8"/>
<circle cx="27.3" cy="235.0" r="3.8" fill="#A3C6EC" stroke="#6F7C8C" stroke-width="0.8"/>
<circle cx="27.3" cy="241.1" r="3.8" fill="#A3C6EC" stroke="#6F7C8C" stroke-width="0.8"/>
<circle cx="27.3" cy="247.2" r="3.8" fill="#A3C6EC" stroke="#6F7C8C" stroke-width="0.8"/>
<circle cx="27.3" cy="253.3" r="3.8" fill="#A3C6EC" stroke="#6F7C8C" stroke-width="0.8"/>
<circle cx="27.3" cy="259.4" r="3.8" fill="#A3C6EC" stroke="#6F7C8C" stroke-width="0.8"/>
<text x="27.5" y="242" font-family="Liberation Serif" font-weight="bold" font-size="9" text-anchor="middle" fill="#111" stroke="#111" stroke-width="0.3">0</text>
<ellipse cx="27.3" cy="264.8" rx="1.7" ry="3" fill="#111"/>
<text x="1" y="306.2" font-family="Liberation Sans" font-size="9.2" text-anchor="start" fill="#111" stroke="#111" stroke-width="0.15">(c)</text>
<path d="M23.9 313.3H25.9V436.1H23.9" stroke="#1e1e1e" stroke-width="1.2" fill="none"/>
<path d="M25.9 387H284.5V389" stroke="#3a3a3a" stroke-width="1.1" fill="none"/>
<path d="M25.7 387V389" stroke="#1e1e1e" stroke-width="1.2"/>
<path d="M90.4 387V389" stroke="#1e1e1e" stroke-width="1.2"/>
<path d="M155.1 387V389" stroke="#1e1e1e" stroke-width="1.2"/>
<path d="M219.8 387V389" stroke="#1e1e1e" stroke-width="1.2"/>
<path d="M284.5 387V389" stroke="#1e1e1e" stroke-width="1.2"/>
<text x="17.5" y="312.3" font-family="Liberation Serif" font-weight="bold" font-size="8" text-anchor="middle" transform="rotate(-90 17.5 312.3)" fill="#111" stroke="#111" stroke-width="0.3">3</text>
<text x="18.5" y="435.3" font-family="Liberation Serif" font-weight="bold" font-size="8" text-anchor="middle" transform="rotate(-90 18.5 435.3)" fill="#111" stroke="#111" stroke-width="0.3">-2</text>
<text x="8.8" y="374.4" font-family="Liberation Serif" font-weight="bold" font-size="9.6" text-anchor="middle" transform="rotate(-90 8.8 374.4)" fill="#111" stroke="#111" stroke-width="0.3">T</text>
<text x="154.5" y="437" font-family="Liberation Serif" font-weight="bold" font-size="9.5" text-anchor="middle" fill="#111" stroke="#111" stroke-width="0.3">P%</text>
<circle cx="57.3" cy="362.6" r="3.4" fill="#6DBE45" stroke="#62AE3E" stroke-width="0.5"/>
<circle cx="74.5" cy="365.9" r="3.4" fill="#6DBE45" stroke="#62AE3E" stroke-width="0.5"/>
<circle cx="25.3" cy="370.6" r="3.4" fill="#6DBE45" stroke="#62AE3E" stroke-width="0.5"/>
<circle cx="26.0" cy="400.6" r="3.4" fill="#6DBE45" stroke="#62AE3E" stroke-width="0.5"/>
<circle cx="26.7" cy="405.9" r="3.4" fill="#6DBE45" stroke="#62AE3E" stroke-width="0.5"/>
<circle cx="57.3" cy="405.9" r="3.4" fill="#6DBE45" stroke="#62AE3E" stroke-width="0.5"/>
<circle cx="68.0" cy="403.0" r="3.4" fill="#6DBE45" stroke="#62AE3E" stroke-width="0.5"/>
<circle cx="57.3" cy="404.5" r="3.4" fill="#6DBE45" stroke="#62AE3E" stroke-width="0.5"/>
<circle cx="71.2" cy="402.5" r="3.4" fill="#6DBE45" stroke="#62AE3E" stroke-width="0.5"/>
<circle cx="82.5" cy="401.2" r="3.4" fill="#6DBE45" stroke="#62AE3E" stroke-width="0.5"/>
<circle cx="88.5" cy="403.2" r="3.4" fill="#6DBE45" stroke="#62AE3E" stroke-width="0.5"/>
<circle cx="93.7" cy="371.9" r="3.4" fill="#6DBE45" stroke="#62AE3E" stroke-width="0.5"/>
<circle cx="107.9" cy="370.6" r="3.4" fill="#6DBE45" stroke="#62AE3E" stroke-width="0.5"/>
<circle cx="117.8" cy="367.9" r="3.4" fill="#6DBE45" stroke="#62AE3E" stroke-width="0.5"/>
<circle cx="99.9" cy="375.9" r="3.4" fill="#6DBE45" stroke="#62AE3E" stroke-width="0.5"/>
<circle cx="124.4" cy="383.8" r="3.4" fill="#6DBE45" stroke="#62AE3E" stroke-width="0.5"/>
<circle cx="108.5" cy="399.0" r="3.4" fill="#6DBE45" stroke="#62AE3E" stroke-width="0.5"/>
<circle cx="91.3" cy="402.4" r="3.4" fill="#6DBE45" stroke="#62AE3E" stroke-width="0.5"/>
<circle cx="118.1" cy="367.4" r="3.4" fill="#6DBE45" stroke="#62AE3E" stroke-width="0.5"/>
<circle cx="133.2" cy="373.2" r="3.4" fill="#6DBE45" stroke="#62AE3E" stroke-width="0.5"/>
<circle cx="111.2" cy="399.8" r="3.4" fill="#6DBE45" stroke="#62AE3E" stroke-width="0.5"/>
<circle cx="123.9" cy="384.8" r="3.4" fill="#6DBE45" stroke="#62AE3E" stroke-width="0.5"/>
<circle cx="193.7" cy="387.2" r="3.4" fill="#6DBE45" stroke="#62AE3E" stroke-width="0.5"/>
<circle cx="70.9" cy="401.7" r="3.4" fill="#6DBE45" stroke="#62AE3E" stroke-width="0.5"/>
<circle cx="80.9" cy="400.7" r="3.4" fill="#6DBE45" stroke="#62AE3E" stroke-width="0.5"/>
<circle cx="89.8" cy="403.7" r="3.4" fill="#6DBE45" stroke="#62AE3E" stroke-width="0.5"/>
<circle cx="31.3" cy="363.3" r="3.8" fill="#A3C6EC" stroke="#6F7C8C" stroke-width="0.8"/>
<circle cx="37.2" cy="362.6" r="3.8" fill="#A3C6EC" stroke="#6F7C8C" stroke-width="0.8"/>
<circle cx="43.2" cy="363.3" r="3.8" fill="#A3C6EC" stroke="#6F7C8C" stroke-width="0.8"/>
<circle cx="49.8" cy="364.6" r="3.8" fill="#A3C6EC" stroke="#6F7C8C" stroke-width="0.8"/>
<circle cx="30.6" cy="369.2" r="3.8" fill="#A3C6EC" stroke="#6F7C8C" stroke-width="0.8"/>
<circle cx="37.2" cy="369.2" r="3.8" fill="#A3C6EC" stroke="#6F7C8C" stroke-width="0.8"/>
<circle cx="44.0" cy="368.0" r="3.8" fill="#A3C6EC" stroke="#6F7C8C" stroke-width="0.8"/>
<circle cx="51.8" cy="370.6" r="3.8" fill="#A3C6EC" stroke="#6F7C8C" stroke-width="0.8"/>
<circle cx="43.2" cy="373.9" r="3.8" fill="#A3C6EC" stroke="#6F7C8C" stroke-width="0.8"/>
<circle cx="28.6" cy="375.2" r="3.8" fill="#A3C6EC" stroke="#6F7C8C" stroke-width="0.8"/>
<circle cx="34.6" cy="375.9" r="3.8" fill="#A3C6EC" stroke="#6F7C8C" stroke-width="0.8"/>
<circle cx="47.8" cy="377.2" r="3.8" fill="#A3C6EC" stroke="#6F7C8C" stroke-width="0.8"/>
<circle cx="54.0" cy="376.0" r="3.8" fill="#A3C6EC" stroke="#6F7C8C" stroke-width="0.8"/>
<circle cx="30.0" cy="382.5" r="3.8" fill="#A3C6EC" stroke="#6F7C8C" stroke-width="0.8"/>
<circle cx="36.0" cy="381.0" r="3.8" fill="#A3C6EC" stroke="#6F7C8C" stroke-width="0.8"/>
<circle cx="42.5" cy="382.5" r="3.8" fill="#A3C6EC" stroke="#6F7C8C" stroke-width="0.8"/>
<circle cx="49.0" cy="383.0" r="3.8" fill="#A3C6EC" stroke="#6F7C8C" stroke-width="0.8"/>
<circle cx="55.0" cy="383.0" r="3.8" fill="#A3C6EC" stroke="#6F7C8C" stroke-width="0.8"/>
<circle cx="28.9" cy="388.0" r="3.8" fill="#A3C6EC" stroke="#6F7C8C" stroke-width="0.8"/>
<circle cx="33.4" cy="391.0" r="3.8" fill="#A3C6EC" stroke="#6F7C8C" stroke-width="0.8"/>
<circle cx="42.4" cy="386.5" r="3.8" fill="#A3C6EC" stroke="#6F7C8C" stroke-width="0.8"/>
<circle cx="46.8" cy="392.5" r="3.8" fill="#A3C6EC" stroke="#6F7C8C" stroke-width="0.8"/>
<circle cx="54.3" cy="390.2" r="3.8" fill="#A3C6EC" stroke="#6F7C8C" stroke-width="0.8"/>
<circle cx="28.9" cy="395.4" r="3.8" fill="#A3C6EC" stroke="#6F7C8C" stroke-width="0.8"/>
<circle cx="32.7" cy="399.2" r="3.8" fill="#A3C6EC" stroke="#6F7C8C" stroke-width="0.8"/>
<circle cx="36.4" cy="403.6" r="3.8" fill="#A3C6EC" stroke="#6F7C8C" stroke-width="0.8"/>
<circle cx="31.9" cy="408.8" r="3.8" fill="#A3C6EC" stroke="#6F7C8C" stroke-width="0.8"/>
<circle cx="51.3" cy="409.6" r="3.8" fill="#A3C6EC" stroke="#6F7C8C" stroke-width="0.8"/>
<circle cx="50.6" cy="401.4" r="3.8" fill="#A3C6EC" stroke="#6F7C8C" stroke-width="0.8"/>
<circle cx="45.0" cy="399.0" r="3.8" fill="#A3C6EC" stroke="#6F7C8C" stroke-width="0.8"/>
<circle cx="40.0" cy="395.0" r="3.8" fill="#A3C6EC" stroke="#6F7C8C" stroke-width="0.8"/>
<circle cx="55.0" cy="396.0" r="3.8" fill="#A3C6EC" stroke="#6F7C8C" stroke-width="0.8"/>
<circle cx="29.0" cy="403.0" r="3.8" fill="#A3C6EC" stroke="#6F7C8C" stroke-width="0.8"/>
<circle cx="45.0" cy="406.0" r="3.8" fill="#A3C6EC" stroke="#6F7C8C" stroke-width="0.8"/>
<circle cx="35.0" cy="386.0" r="3.8" fill="#A3C6EC" stroke="#6F7C8C" stroke-width="0.8"/>
<circle cx="38.0" cy="392.0" r="3.8" fill="#A3C6EC" stroke="#6F7C8C" stroke-width="0.8"/>
<circle cx="48.0" cy="388.0" r="3.8" fill="#A3C6EC" stroke="#6F7C8C" stroke-width="0.8"/>
<circle cx="33.0" cy="381.0" r="3.8" fill="#A3C6EC" stroke="#6F7C8C" stroke-width="0.8"/>
<circle cx="53.0" cy="386.0" r="3.8" fill="#A3C6EC" stroke="#6F7C8C" stroke-width="0.8"/>
<path d="M68.6 363.2L72.0 369.7L65.2 369.7Z" fill="#F3DA55" stroke="#5E4E10" stroke-width="0.75"/>
<path d="M77.9 365.8L81.3 372.3L74.5 372.3Z" fill="#F3DA55" stroke="#5E4E10" stroke-width="0.75"/>
<path d="M84.5 363.9L87.9 370.4L81.1 370.4Z" fill="#F3DA55" stroke="#5E4E10" stroke-width="0.75"/>
<path d="M80.5 369.8L83.9 376.3L77.1 376.3Z" fill="#F3DA55" stroke="#5E4E10" stroke-width="0.75"/>
<path d="M89.1 370.5L92.5 377.0L85.7 377.0Z" fill="#F3DA55" stroke="#5E4E10" stroke-width="0.75"/>
<path d="M91.8 373.8L95.2 380.3L88.4 380.3Z" fill="#F3DA55" stroke="#5E4E10" stroke-width="0.75"/>
<path d="M86.5 378.4L89.9 384.9L83.1 384.9Z" fill="#F3DA55" stroke="#5E4E10" stroke-width="0.75"/>
<path d="M77.2 379.1L80.6 385.6L73.8 385.6Z" fill="#F3DA55" stroke="#5E4E10" stroke-width="0.75"/>
<path d="M94.4 380.4L97.8 386.9L91.0 386.9Z" fill="#F3DA55" stroke="#5E4E10" stroke-width="0.75"/>
<path d="M67.9 384.5L71.3 391.0L64.5 391.0Z" fill="#F3DA55" stroke="#5E4E10" stroke-width="0.75"/>
<path d="M77.2 389.2L80.6 395.7L73.8 395.7Z" fill="#F3DA55" stroke="#5E4E10" stroke-width="0.75"/>
<path d="M82.5 391.2L85.9 397.7L79.1 397.7Z" fill="#F3DA55" stroke="#5E4E10" stroke-width="0.75"/>
<path d="M86.5 396.5L89.9 403.0L83.1 403.0Z" fill="#F3DA55" stroke="#5E4E10" stroke-width="0.75"/>
<path d="M75.9 377.9L79.3 384.4L72.5 384.4Z" fill="#F3DA55" stroke="#5E4E10" stroke-width="0.75"/>
<path d="M90.4 389.8L93.8 396.3L87.0 396.3Z" fill="#F3DA55" stroke="#5E4E10" stroke-width="0.75"/>
<path d="M94.4 393.8L97.8 400.3L91.0 400.3Z" fill="#F3DA55" stroke="#5E4E10" stroke-width="0.75"/>
<path d="M61.3 391.2L64.7 397.7L57.9 397.7Z" fill="#F3DA55" stroke="#5E4E10" stroke-width="0.75"/>
<path d="M60.0 396.5L63.4 403.0L56.6 403.0Z" fill="#F3DA55" stroke="#5E4E10" stroke-width="0.75"/>
<path d="M71.9 393.8L75.3 400.3L68.5 400.3Z" fill="#F3DA55" stroke="#5E4E10" stroke-width="0.75"/>
<path d="M42.4 401.0L45.8 407.5L39.0 407.5Z" fill="#F3DA55" stroke="#5E4E10" stroke-width="0.75"/>
<path d="M49.8 392.8L53.2 399.3L46.4 399.3Z" fill="#F3DA55" stroke="#5E4E10" stroke-width="0.75"/>
<path d="M39.4 404.0L42.8 410.5L36.0 410.5Z" fill="#F3DA55" stroke="#5E4E10" stroke-width="0.75"/>
<path d="M61.7 398.0L65.1 404.5L58.3 404.5Z" fill="#F3DA55" stroke="#5E4E10" stroke-width="0.75"/>
<path d="M50.6 391.3L54.0 397.8L47.2 397.8Z" fill="#F3DA55" stroke="#5E4E10" stroke-width="0.75"/>
<path d="M41.5 401.3L44.9 407.8L38.1 407.8Z" fill="#F3DA55" stroke="#5E4E10" stroke-width="0.75"/>
<path d="M59.7 401.3L63.1 407.8L56.3 407.8Z" fill="#F3DA55" stroke="#5E4E10" stroke-width="0.75"/>
<path d="M94.6 361.9L98.0 368.4L91.2 368.4Z" fill="#F3DA55" stroke="#5E4E10" stroke-width="0.75"/>
<path d="M99.3 362.5L102.7 369.0L95.9 369.0Z" fill="#F3DA55" stroke="#5E4E10" stroke-width="0.75"/>
<path d="M93.3 372.5L96.7 379.0L89.9 379.0Z" fill="#F3DA55" stroke="#5E4E10" stroke-width="0.75"/>
<path d="M96.0 369.8L99.4 376.3L92.6 376.3Z" fill="#F3DA55" stroke="#5E4E10" stroke-width="0.75"/>
<path d="M104.6 370.5L108.0 377.0L101.2 377.0Z" fill="#F3DA55" stroke="#5E4E10" stroke-width="0.75"/>
<path d="M109.9 369.8L113.3 376.3L106.5 376.3Z" fill="#F3DA55" stroke="#5E4E10" stroke-width="0.75"/>
<path d="M115.2 367.2L118.6 373.7L111.8 373.7Z" fill="#F3DA55" stroke="#5E4E10" stroke-width="0.75"/>
<path d="M120.5 365.8L123.9 372.3L117.1 372.3Z" fill="#F3DA55" stroke="#5E4E10" stroke-width="0.75"/>
<path d="M126.4 367.2L129.8 373.7L123.0 373.7Z" fill="#F3DA55" stroke="#5E4E10" stroke-width="0.75"/>
<path d="M129.0 365.8L132.4 372.3L125.6 372.3Z" fill="#F3DA55" stroke="#5E4E10" stroke-width="0.75"/>
<path d="M103.2 374.5L106.6 381.0L99.8 381.0Z" fill="#F3DA55" stroke="#5E4E10" stroke-width="0.75"/>
<path d="M113.2 373.1L116.6 379.6L109.8 379.6Z" fill="#F3DA55" stroke="#5E4E10" stroke-width="0.75"/>
<path d="M118.5 371.8L121.9 378.3L115.1 378.3Z" fill="#F3DA55" stroke="#5E4E10" stroke-width="0.75"/>
<path d="M123.8 372.5L127.2 379.0L120.4 379.0Z" fill="#F3DA55" stroke="#5E4E10" stroke-width="0.75"/>
<path d="M128.4 375.8L131.8 382.3L125.0 382.3Z" fill="#F3DA55" stroke="#5E4E10" stroke-width="0.75"/>
<path d="M95.3 378.4L98.7 384.9L91.9 384.9Z" fill="#F3DA55" stroke="#5E4E10" stroke-width="0.75"/>
<path d="M100.6 377.8L104.0 384.3L97.2 384.3Z" fill="#F3DA55" stroke="#5E4E10" stroke-width="0.75"/>
<path d="M108.5 377.8L111.9 384.3L105.1 384.3Z" fill="#F3DA55" stroke="#5E4E10" stroke-width="0.75"/>
<path d="M119.1 378.4L122.5 384.9L115.7 384.9Z" fill="#F3DA55" stroke="#5E4E10" stroke-width="0.75"/>
<path d="M124.4 377.8L127.8 384.3L121.0 384.3Z" fill="#F3DA55" stroke="#5E4E10" stroke-width="0.75"/>
<path d="M94.0 383.1L97.4 389.6L90.6 389.6Z" fill="#F3DA55" stroke="#5E4E10" stroke-width="0.75"/>
<path d="M99.3 381.7L102.7 388.2L95.9 388.2Z" fill="#F3DA55" stroke="#5E4E10" stroke-width="0.75"/>
<path d="M104.6 383.1L108.0 389.6L101.2 389.6Z" fill="#F3DA55" stroke="#5E4E10" stroke-width="0.75"/>
<path d="M110.5 383.1L113.9 389.6L107.1 389.6Z" fill="#F3DA55" stroke="#5E4E10" stroke-width="0.75"/>
<path d="M115.2 381.1L118.6 387.6L111.8 387.6Z" fill="#F3DA55" stroke="#5E4E10" stroke-width="0.75"/>
<path d="M127.7 381.1L131.1 387.6L124.3 387.6Z" fill="#F3DA55" stroke="#5E4E10" stroke-width="0.75"/>
<path d="M96.6 387.0L100.0 393.5L93.2 393.5Z" fill="#F3DA55" stroke="#5E4E10" stroke-width="0.75"/>
<path d="M100.6 388.4L104.0 394.9L97.2 394.9Z" fill="#F3DA55" stroke="#5E4E10" stroke-width="0.75"/>
<path d="M125.8 387.0L129.2 393.5L122.4 393.5Z" fill="#F3DA55" stroke="#5E4E10" stroke-width="0.75"/>
<path d="M96.0 395.0L99.4 401.5L92.6 401.5Z" fill="#F3DA55" stroke="#5E4E10" stroke-width="0.75"/>
<path d="M103.2 393.0L106.6 399.5L99.8 399.5Z" fill="#F3DA55" stroke="#5E4E10" stroke-width="0.75"/>
<path d="M105.9 397.6L109.3 404.1L102.5 404.1Z" fill="#F3DA55" stroke="#5E4E10" stroke-width="0.75"/>
<path d="M99.3 400.3L102.7 406.8L95.9 406.8Z" fill="#F3DA55" stroke="#5E4E10" stroke-width="0.75"/>
<path d="M128.4 398.3L131.8 404.8L125.0 404.8Z" fill="#F3DA55" stroke="#5E4E10" stroke-width="0.75"/>
<path d="M145.9 366.3L149.3 372.8L142.5 372.8Z" fill="#F3DA55" stroke="#5E4E10" stroke-width="0.75"/>
<path d="M149.4 368.6L152.8 375.1L146.0 375.1Z" fill="#F3DA55" stroke="#5E4E10" stroke-width="0.75"/>
<path d="M163.8 370.9L167.2 377.4L160.4 377.4Z" fill="#F3DA55" stroke="#5E4E10" stroke-width="0.75"/>
<path d="M156.4 376.7L159.8 383.2L153.0 383.2Z" fill="#F3DA55" stroke="#5E4E10" stroke-width="0.75"/>
<path d="M137.8 375.6L141.2 382.1L134.4 382.1Z" fill="#F3DA55" stroke="#5E4E10" stroke-width="0.75"/>
<path d="M120.4 377.9L123.8 384.4L117.0 384.4Z" fill="#F3DA55" stroke="#5E4E10" stroke-width="0.75"/>
<path d="M133.2 383.7L136.6 390.2L129.8 390.2Z" fill="#F3DA55" stroke="#5E4E10" stroke-width="0.75"/>
<path d="M140.1 382.5L143.5 389.0L136.7 389.0Z" fill="#F3DA55" stroke="#5E4E10" stroke-width="0.75"/>
<path d="M144.8 389.5L148.2 396.0L141.4 396.0Z" fill="#F3DA55" stroke="#5E4E10" stroke-width="0.75"/>
<path d="M173.7 382.5L177.1 389.0L170.3 389.0Z" fill="#F3DA55" stroke="#5E4E10" stroke-width="0.75"/>
<path d="M130.9 396.4L134.3 402.9L127.5 402.9Z" fill="#F3DA55" stroke="#5E4E10" stroke-width="0.75"/>
<path d="M134.3 395.3L137.7 401.8L130.9 401.8Z" fill="#F3DA55" stroke="#5E4E10" stroke-width="0.75"/>
<path d="M164.5 371.9L167.9 378.4L161.1 378.4Z" fill="#F3DA55" stroke="#5E4E10" stroke-width="0.75"/>
<path d="M173.4 382.4L176.8 388.9L170.0 388.9Z" fill="#F3DA55" stroke="#5E4E10" stroke-width="0.75"/>
<path d="M191.3 366.9L194.7 373.4L187.9 373.4Z" fill="#F3DA55" stroke="#5E4E10" stroke-width="0.75"/>
<path d="M204.1 372.5L207.5 379.0L200.7 379.0Z" fill="#F3DA55" stroke="#5E4E10" stroke-width="0.75"/>
<path d="M197.2 393.4L200.6 399.9L193.8 399.9Z" fill="#F3DA55" stroke="#5E4E10" stroke-width="0.75"/>
<path d="M218.1 378.8L221.5 385.3L214.7 385.3Z" fill="#F3DA55" stroke="#5E4E10" stroke-width="0.75"/>
<path d="M215.1 385.3L218.5 391.8L211.7 391.8Z" fill="#F3DA55" stroke="#5E4E10" stroke-width="0.75"/>
<path d="M228.0 385.3L231.4 391.8L224.6 391.8Z" fill="#F3DA55" stroke="#5E4E10" stroke-width="0.75"/>
<path d="M232.4 381.8L235.8 388.3L229.0 388.3Z" fill="#F3DA55" stroke="#5E4E10" stroke-width="0.75"/>
<path d="M273.6 376.9L277.0 383.4L270.2 383.4Z" fill="#F3DA55" stroke="#5E4E10" stroke-width="0.75"/>
<path d="M39.0 375.3L42.7 379.0L39.0 382.7L35.3 379.0Z" fill="#F47B22" stroke="#F7A060" stroke-width="0.4"/>
<path d="M52.3 375.3L56.0 379.0L52.3 382.7L48.6 379.0Z" fill="#F47B22" stroke="#F7A060" stroke-width="0.4"/>
<path d="M58.0 367.0L61.7 370.7L58.0 374.4L54.3 370.7Z" fill="#F47B22" stroke="#F7A060" stroke-width="0.4"/>
<path d="M64.7 367.0L68.4 370.7L64.7 374.4L61.0 370.7Z" fill="#F47B22" stroke="#F7A060" stroke-width="0.4"/>
<path d="M36.6 393.5L40.3 397.2L36.6 400.9L32.9 397.2Z" fill="#F47B22" stroke="#F7A060" stroke-width="0.4"/>
<path d="M43.2 393.5L46.9 397.2L43.2 400.9L39.5 397.2Z" fill="#F47B22" stroke="#F7A060" stroke-width="0.4"/>
<path d="M58.0 372.8L61.7 376.5L58.0 380.2L54.3 376.5Z" fill="#F47B22" stroke="#F7A060" stroke-width="0.4"/>
<path d="M64.7 374.5L68.4 378.2L64.7 381.9L61.0 378.2Z" fill="#F47B22" stroke="#F7A060" stroke-width="0.4"/>
<path d="M37.9 396.2L41.6 399.9L37.9 403.6L34.2 399.9Z" fill="#F47B22" stroke="#F7A060" stroke-width="0.4"/>
<path d="M58.0 365.5L61.7 369.2L58.0 372.9L54.3 369.2Z" fill="#F47B22" stroke="#F7A060" stroke-width="0.4"/>
<path d="M63.3 366.2L67.0 369.9L63.3 373.6L59.6 369.9Z" fill="#F47B22" stroke="#F7A060" stroke-width="0.4"/>
<path d="M69.2 366.2L72.9 369.9L69.2 373.6L65.5 369.9Z" fill="#F47B22" stroke="#F7A060" stroke-width="0.4"/>
<path d="M73.2 368.9L76.9 372.6L73.2 376.3L69.5 372.6Z" fill="#F47B22" stroke="#F7A060" stroke-width="0.4"/>
<path d="M58.6 374.8L62.3 378.5L58.6 382.2L54.9 378.5Z" fill="#F47B22" stroke="#F7A060" stroke-width="0.4"/>
<path d="M64.0 372.2L67.7 375.9L64.0 379.6L60.3 375.9Z" fill="#F47B22" stroke="#F7A060" stroke-width="0.4"/>
<path d="M77.9 374.2L81.6 377.9L77.9 381.6L74.2 377.9Z" fill="#F47B22" stroke="#F7A060" stroke-width="0.4"/>
<path d="M84.5 373.5L88.2 377.2L84.5 380.9L80.8 377.2Z" fill="#F47B22" stroke="#F7A060" stroke-width="0.4"/>
<path d="M89.8 365.5L93.5 369.2L89.8 372.9L86.1 369.2Z" fill="#F47B22" stroke="#F7A060" stroke-width="0.4"/>
<path d="M93.7 364.9L97.4 368.6L93.7 372.3L90.0 368.6Z" fill="#F47B22" stroke="#F7A060" stroke-width="0.4"/>
<path d="M70.6 378.8L74.3 382.5L70.6 386.2L66.9 382.5Z" fill="#F47B22" stroke="#F7A060" stroke-width="0.4"/>
<path d="M64.6 379.5L68.3 383.2L64.6 386.9L60.9 383.2Z" fill="#F47B22" stroke="#F7A060" stroke-width="0.4"/>
<path d="M87.8 378.8L91.5 382.5L87.8 386.2L84.1 382.5Z" fill="#F47B22" stroke="#F7A060" stroke-width="0.4"/>
<path d="M94.0 364.2L97.7 367.9L94.0 371.6L90.3 367.9Z" fill="#F47B22" stroke="#F7A060" stroke-width="0.4"/>
<path d="M98.6 364.2L102.3 367.9L98.6 371.6L94.9 367.9Z" fill="#F47B22" stroke="#F7A060" stroke-width="0.4"/>
<path d="M91.3 366.9L95.0 370.6L91.3 374.3L87.6 370.6Z" fill="#F47B22" stroke="#F7A060" stroke-width="0.4"/>
<path d="M70.6 378.3L74.3 382.0L70.6 385.7L66.9 382.0Z" fill="#F47B22" stroke="#F7A060" stroke-width="0.4"/>
<path d="M40.0 380.3L43.7 384.0L40.0 387.7L36.3 384.0Z" fill="#F47B22" stroke="#F7A060" stroke-width="0.4"/>
<path d="M50.0 380.3L53.7 384.0L50.0 387.7L46.3 384.0Z" fill="#F47B22" stroke="#F7A060" stroke-width="0.4"/>
<path d="M41.8 365.8L48.6 372.6M48.6 365.8L41.8 372.6" stroke="#8E4418" stroke-width="1.3" fill="none"/><path d="M45.2 365.8V372.6" stroke="#8E4418" stroke-width="0.8"/>
<path d="M29.2 371.8L36.0 378.6M36.0 371.8L29.2 378.6" stroke="#8E4418" stroke-width="1.3" fill="none"/><path d="M32.6 371.8V378.6" stroke="#8E4418" stroke-width="0.8"/>
<path d="M35.2 377.1L42.0 383.9M42.0 377.1L35.2 383.9" stroke="#8E4418" stroke-width="1.3" fill="none"/><path d="M38.6 377.1V383.9" stroke="#8E4418" stroke-width="0.8"/>
<path d="M48.4 376.4L55.2 383.2M55.2 376.4L48.4 383.2" stroke="#8E4418" stroke-width="1.3" fill="none"/><path d="M51.8 376.4V383.2" stroke="#8E4418" stroke-width="0.8"/>
<path d="M35.2 385.1L42.0 391.9M42.0 385.1L35.2 391.9" stroke="#8E4418" stroke-width="1.3" fill="none"/><path d="M38.6 385.1V391.9" stroke="#8E4418" stroke-width="0.8"/>
<path d="M41.8 385.7L48.6 392.5M48.6 385.7L41.8 392.5" stroke="#8E4418" stroke-width="1.3" fill="none"/><path d="M45.2 385.7V392.5" stroke="#8E4418" stroke-width="0.8"/>
<path d="M35.8 392.3L42.6 399.1M42.6 392.3L35.8 399.1" stroke="#8E4418" stroke-width="1.3" fill="none"/><path d="M39.2 392.3V399.1" stroke="#8E4418" stroke-width="0.8"/>
<path d="M41.1 393.7L47.9 400.5M47.9 393.7L41.1 400.5" stroke="#8E4418" stroke-width="1.3" fill="none"/><path d="M44.5 393.7V400.5" stroke="#8E4418" stroke-width="0.8"/>
<path d="M53.7 395.0L60.5 401.8M60.5 395.0L53.7 401.8" stroke="#8E4418" stroke-width="1.3" fill="none"/><path d="M57.1 395.0V401.8" stroke="#8E4418" stroke-width="0.8"/>
<path d="M61.3 390.5L68.1 397.3M68.1 390.5L61.3 397.3" stroke="#8E4418" stroke-width="1.3" fill="none"/><path d="M64.7 390.5V397.3" stroke="#8E4418" stroke-width="0.8"/>
<path d="M63.9 374.5L70.7 381.3M70.7 374.5L63.9 381.3" stroke="#8E4418" stroke-width="1.3" fill="none"/><path d="M67.3 374.5V381.3" stroke="#8E4418" stroke-width="0.8"/>
<path d="M67.2 376.4L74.0 383.2M74.0 376.4L67.2 383.2" stroke="#8E4418" stroke-width="1.3" fill="none"/><path d="M70.6 376.4V383.2" stroke="#8E4418" stroke-width="0.8"/>
<path d="M79.1 375.1L85.9 381.9M85.9 375.1L79.1 381.9" stroke="#8E4418" stroke-width="1.3" fill="none"/><path d="M82.5 375.1V381.9" stroke="#8E4418" stroke-width="0.8"/>
<path d="M55.9 395.1L62.7 401.9M62.7 395.1L55.9 401.9" stroke="#8E4418" stroke-width="1.3" fill="none"/><path d="M59.3 395.1V401.9" stroke="#8E4418" stroke-width="0.8"/>
<path d="M80.4 382.6L87.2 389.4M87.2 382.6L80.4 389.4" stroke="#8E4418" stroke-width="1.3" fill="none"/><path d="M83.8 382.6V389.4" stroke="#8E4418" stroke-width="0.8"/>
<path d="M68.5 382.6L75.3 389.4M75.3 382.6L68.5 389.4" stroke="#8E4418" stroke-width="1.3" fill="none"/><path d="M71.9 382.6V389.4" stroke="#8E4418" stroke-width="0.8"/>
<path d="M56.5 385L61 383.5L66.5 386L65.5 390L59 389.5Z" fill="#111"/>
<path d="M59.4 358.1L65.8 364.5M65.8 358.1L59.4 364.5" stroke="#222" stroke-width="1.0"/>
<text x="26.2" y="399.5" font-family="Liberation Serif" font-weight="bold" font-size="9" text-anchor="middle" fill="#111" stroke="#111" stroke-width="0.3">0</text>
<text x="90.9" y="399.5" font-family="Liberation Serif" font-weight="bold" font-size="9" text-anchor="middle" fill="#111" stroke="#111" stroke-width="0.3">10</text>
<text x="155.6" y="399.5" font-family="Liberation Serif" font-weight="bold" font-size="9" text-anchor="middle" fill="#111" stroke="#111" stroke-width="0.3">20</text>
<text x="220.3" y="399.5" font-family="Liberation Serif" font-weight="bold" font-size="9" text-anchor="middle" fill="#111" stroke="#111" stroke-width="0.3">30</text>
<text x="285.0" y="399.5" font-family="Liberation Serif" font-weight="bold" font-size="9" text-anchor="middle" fill="#111" stroke="#111" stroke-width="0.3">40</text>
<rect x="195.1" y="7.9" width="100.6" height="90.3" fill="#fff" stroke="#333" stroke-width="1"/>
<path d="M203.5 14.2L206.8 17.5L203.5 20.8L200.2 17.5Z" fill="#F47B22" stroke="#F7A060" stroke-width="0.4"/>
<path d="M200.8 27.0L206.4 32.4M206.4 27.0L200.8 32.4M203.6 26.7V32.7" stroke="#A0303A" stroke-width="1.1"/>
<circle cx="203.5" cy="41.9" r="2.6" fill="#7CC24E"/>
<path d="M203.5 50.8L207 56.4L200 56.4Z" fill="#F5EE8A"/>
<path d="M200.9 66.1H206.1M203.5 63.5V68.7" stroke="#111" stroke-width="1.5"/>
<path d="M201.1 75.8L205.9 80.6M205.9 75.8L201.1 80.6" stroke="#7030A0" stroke-width="1.4"/>
<circle cx="203.5" cy="90.3" r="2.8" fill="#9ED3D8"/>
<text x="208.6" y="20.2" font-family="Liberation Serif" font-weight="bold" font-size="8" text-anchor="start" fill="#111" stroke="#111" stroke-width="0.3">Sarbadan</text>
<text x="208.6" y="32.4" font-family="Liberation Serif" font-weight="bold" font-size="8" text-anchor="start" fill="#111" stroke="#111" stroke-width="0.3">Ghahan</text>
<text x="208.6" y="44.6" font-family="Liberation Serif" font-weight="bold" font-size="8" text-anchor="start" fill="#111" stroke="#111" stroke-width="0.3">Urumieh</text>
<text x="208.6" y="56.7" font-family="Liberation Serif" font-weight="bold" font-size="8" text-anchor="start" fill="#111" stroke="#111" stroke-width="0.3">Zahedan</text>
<text x="208.6" y="68.8" font-family="Liberation Serif" font-weight="bold" font-size="8" text-anchor="start" fill="#111" stroke="#111" stroke-width="0.3">Shah-Kuh</text>
<text x="208.6" y="80.9" font-family="Liberation Serif" font-weight="bold" font-size="8" text-anchor="start" fill="#111" stroke="#111" stroke-width="0.3">Boroujerd and Gousheh</text>
<text x="208.6" y="93.0" font-family="Liberation Serif" font-weight="bold" font-size="8" text-anchor="start" fill="#111" stroke="#111" stroke-width="0.3">Shir-Kuh</text>
</svg>
</body></html>
